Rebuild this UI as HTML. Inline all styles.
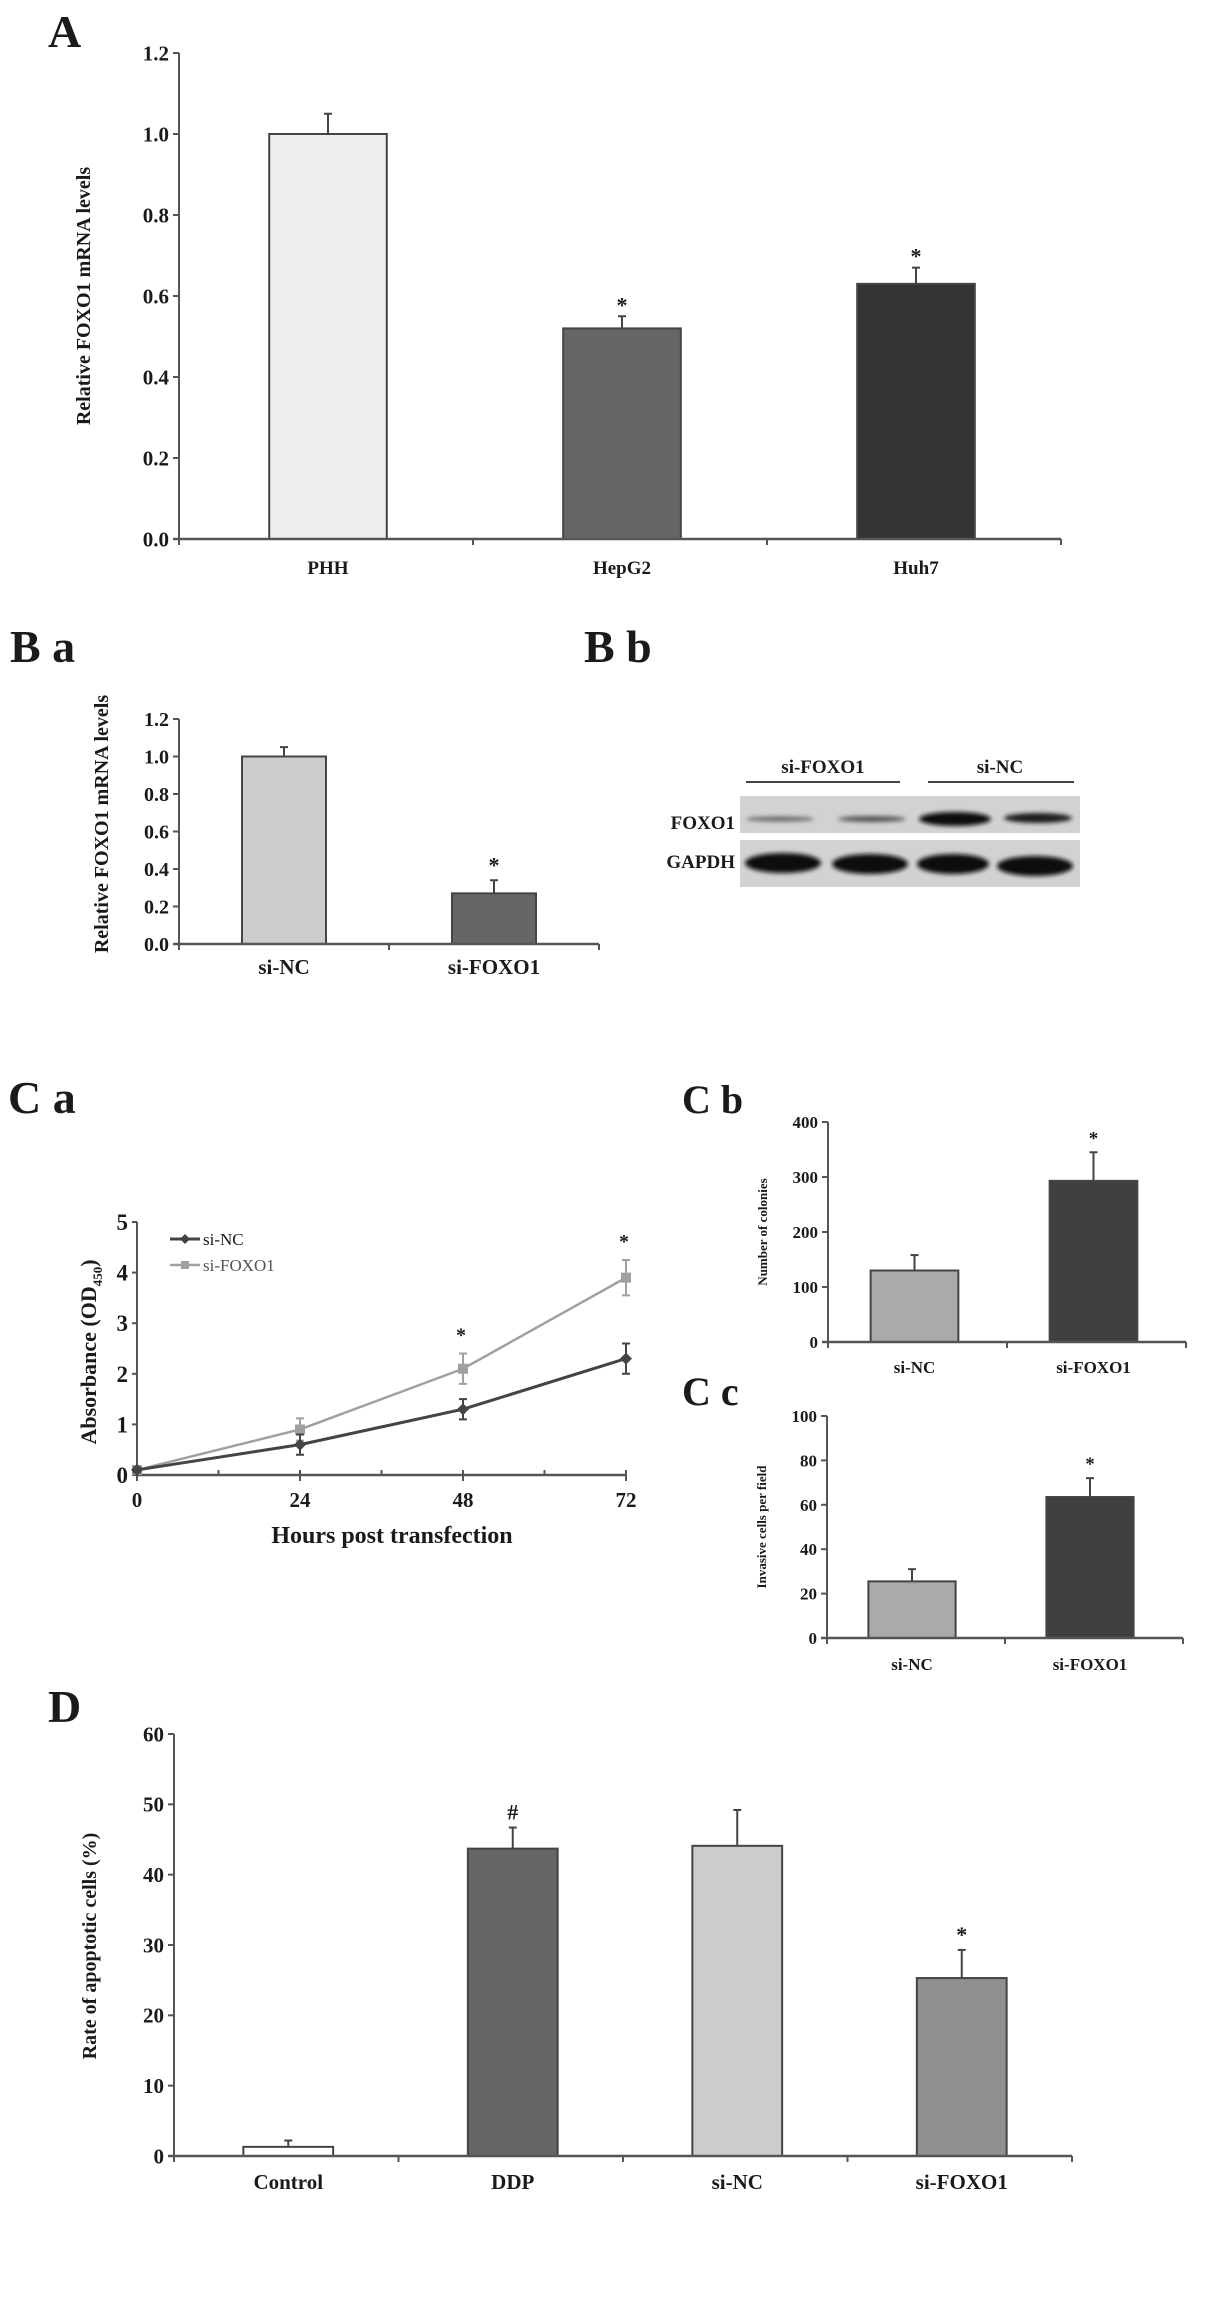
<!DOCTYPE html>
<html><head><meta charset="utf-8">
<style>
html,body{margin:0;padding:0;background:#fff;}
svg{display:block;}
text{font-family:"Liberation Serif",serif;font-weight:bold;fill:#1a1a1a;}
</style></head>
<body>
<svg id="fig" width="1205" height="2311" viewBox="0 0 1205 2311" xmlns="http://www.w3.org/2000/svg">
<defs>
<filter id="blur2" x="-20%" y="-50%" width="140%" height="200%"><feGaussianBlur stdDeviation="2.2"/></filter>
</defs>
<text x="48" y="47" font-size="46">A</text>
<text x="10" y="662" font-size="46">B a</text>
<text x="584" y="662" font-size="46">B b</text>
<text x="8" y="1113" font-size="46">C a</text>
<text x="682" y="1113" font-size="40">C b</text>
<text x="682" y="1405" font-size="40">C c</text>
<text x="48" y="1722" font-size="46">D</text>

<g id="blot">
  <text x="823" y="773" font-size="19" text-anchor="middle">si-FOXO1</text>
  <line x1="746" y1="782" x2="900" y2="782" stroke="#444" stroke-width="2"/>
  <text x="1000" y="773" font-size="19" text-anchor="middle">si-NC</text>
  <line x1="928" y1="782" x2="1074" y2="782" stroke="#444" stroke-width="2"/>
  <text x="735" y="829" font-size="19" text-anchor="end">FOXO1</text>
  <text x="735" y="868" font-size="19" text-anchor="end">GAPDH</text>
  <rect x="740" y="796" width="340" height="37" fill="#d2d2d2"/>
  <rect x="740" y="840" width="340" height="47" fill="#d2d2d2"/>
  <g filter="url(#blur2)">
    <ellipse cx="780" cy="819" rx="34" ry="2.5" fill="#666"/>
    <ellipse cx="872" cy="819" rx="34" ry="3" fill="#555"/>
    <ellipse cx="955" cy="819" rx="36" ry="7" fill="#111"/>
    <ellipse cx="1038" cy="818" rx="34" ry="5" fill="#1a1a1a"/>
    <ellipse cx="783" cy="863" rx="38" ry="10" fill="#0c0c0c"/>
    <ellipse cx="870" cy="864" rx="38" ry="10" fill="#0c0c0c"/>
    <ellipse cx="953" cy="864" rx="36" ry="10" fill="#0c0c0c"/>
    <ellipse cx="1035" cy="866" rx="38" ry="10" fill="#0c0c0c"/>
  </g>
</g>
</svg>
<script>
// ---------- Panel A data ----------
const aCategories = ["PHH", "HepG2", "Huh7"];
const aValues = [1.0, 0.52, 0.63];
const aErrors = [0.05, 0.03, 0.04];
const aMarks = ["", "*", "*"];
const aTicks = ["0.0", "0.2", "0.4", "0.6", "0.8", "1.0", "1.2"];
// ---------- Panel Ba data ----------
const baCategories = ["si-NC", "si-FOXO1"];
const baValues = [1.0, 0.27];
const baErrors = [0.05, 0.07];
const baMarks = ["", "*"];
const baTicks = ["0.0", "0.2", "0.4", "0.6", "0.8", "1.0", "1.2"];
// ---------- Panel Ca data ----------
const caHours = [0, 24, 48, 72];
const caNC = [0.1, 0.6, 1.3, 2.3];
const caNCErr = [0.05, 0.2, 0.2, 0.3];
const caFOXO1 = [0.1, 0.9, 2.1, 3.9];
const caFOXO1Err = [0.05, 0.22, 0.3, 0.35];
const caMarks = ["", "", "*", "*"];
const caYTicks = ["0", "1", "2", "3", "4", "5"];
const caXTicks = ["0", "24", "48", "72"];
// ---------- Panel Cb data ----------
const cbCategories = ["si-NC", "si-FOXO1"];
const cbValues = [130, 293];
const cbErrors = [28, 52];
const cbMarks = ["", "*"];
const cbTicks = ["0", "100", "200", "300", "400"];
// ---------- Panel Cc data ----------
const ccCategories = ["si-NC", "si-FOXO1"];
const ccValues = [25.5, 63.5];
const ccErrors = [5.5, 8.5];
const ccMarks = ["", "*"];
const ccTicks = ["0", "20", "40", "60", "80", "100"];
// ---------- Panel D data ----------
const dCategories = ["Control", "DDP", "si-NC", "si-FOXO1"];
const dValues = [1.3, 43.7, 44.1, 25.3];
const dErrors = [0.9, 3.0, 5.1, 4.0];
const dMarks = ["", "#", "", "*"];
const dTicks = ["0", "10", "20", "30", "40", "50", "60"];

const NS = "http://www.w3.org/2000/svg";
const svg = document.getElementById("fig");
function mk(tag, attrs, parent) {
  const e = document.createElementNS(NS, tag);
  for (const k in attrs) e.setAttribute(k, attrs[k]);
  (parent || svg).appendChild(e);
  return e;
}
const AX = "#555";

function barChart(c) {
  const g = mk("g", {});
  
  
  const maxV = parseFloat(c.ticks[c.ticks.length - 1]);
  const y = v => c.y0 - (v / maxV) * (c.y0 - c.yTop);
  const band = (c.xEnd - c.ax) / c.cats.length;
  // y axis
  const ya = mk("line", {x1: c.ax, y1: c.yTop, x2: c.ax, y2: c.y0, stroke: AX, "stroke-width": 2}, g);
  
  
  c.ticks.forEach(t => {
    const ty = y(parseFloat(t));
    const tk = mk("line", {x1: c.ax - 6, y1: ty, x2: c.ax, y2: ty, stroke: AX, "stroke-width": 2}, g);
    
    
    const tl = mk("text", {x: c.ax - 10, y: ty + c.tickFs * 0.35, "font-size": c.tickFs, "text-anchor": "end"}, g);
    tl.textContent = t;
    
    
  });
  // bars
  c.cats.forEach((cat, i) => {
    const cx = c.ax + band * (i + 0.5) + (c.shift || 0);
    const w = band * c.bw;
    const top = y(c.vals[i]);
    const eTop = y(c.vals[i] + c.errs[i]);
    const el = mk("line", {x1: cx, y1: top, x2: cx, y2: eTop, stroke: "#444", "stroke-width": 2}, g);
    
    
    const cap = mk("line", {x1: cx - 4, y1: eTop, x2: cx + 4, y2: eTop, stroke: "#444", "stroke-width": 2}, g);
    
    
    const r = mk("rect", {x: cx - w / 2, y: top, width: w, height: c.y0 - top, fill: c.colors[i], stroke: "#444", "stroke-width": 2}, g);
    
    
    const lb = mk("text", {x: cx, y: c.y0 + c.labelDy, "font-size": c.labelFs, "text-anchor": "middle"}, g);
    lb.textContent = cat;
    
    
    if (c.marks[i]) {
      const m = mk("text", {x: cx, y: eTop - c.markGap, "font-size": c.markFs, "text-anchor": "middle", fill: "#333"}, g);
      m.textContent = c.marks[i];
      
      
    }
  });
  // x axis
  const xa = mk("line", {x1: c.ax - 6, y1: c.y0, x2: c.xEnd, y2: c.y0, stroke: AX, "stroke-width": 2.5}, g);
  
  
  for (let i = 0; i <= c.cats.length; i++) {
    const tx = c.ax + band * i;
    const tk = mk("line", {x1: tx, y1: c.y0, x2: tx, y2: c.y0 + 6, stroke: AX, "stroke-width": 2}, g);
    
    
  }
  const yt = mk("text", {x: 0, y: 0, "font-size": c.titleFs, "text-anchor": "middle", transform: "translate(" + c.titleX + "," + c.titleY + ") rotate(-90)"}, g);
  yt.textContent = c.title;
  
  
}

barChart({name: "chart-a", cats: aCategories, vals: aValues, errs: aErrors, marks: aMarks, ticks: aTicks,
  ax: 179, xEnd: 1061, y0: 539, yTop: 53, bw: 0.4, shift: 2, colors: ["#eeeeee", "#666666", "#333333"],
  tickFs: 21, labelFs: 19, labelDy: 35, markFs: 22, markGap: 4, title: "Relative FOXO1 mRNA levels", titleX: 90, titleY: 296, titleFs: 20});
barChart({name: "chart-ba", cats: baCategories, vals: baValues, errs: baErrors, marks: baMarks, ticks: baTicks,
  ax: 179, xEnd: 599, y0: 944, yTop: 719, bw: 0.4, shift: 0, colors: ["#cccccc", "#666666"],
  tickFs: 20, labelFs: 21, labelDy: 30, markFs: 22, markGap: 8, title: "Relative FOXO1 mRNA levels", titleX: 108, titleY: 824, titleFs: 20});
barChart({name: "chart-cb", cats: cbCategories, vals: cbValues, errs: cbErrors, marks: cbMarks, ticks: cbTicks,
  ax: 828, xEnd: 1186, y0: 1342, yTop: 1122, bw: 0.49, shift: -3, colors: ["#aaaaaa", "#404040"],
  tickFs: 17, labelFs: 17, labelDy: 31, markFs: 19, markGap: 8, title: "Number of colonies", titleX: 767, titleY: 1232, titleFs: 13});
barChart({name: "chart-cc", cats: ccCategories, vals: ccValues, errs: ccErrors, marks: ccMarks, ticks: ccTicks,
  ax: 827, xEnd: 1183, y0: 1638, yTop: 1416, bw: 0.49, shift: -4, colors: ["#aaaaaa", "#404040"],
  tickFs: 17, labelFs: 17, labelDy: 32, markFs: 19, markGap: 8, title: "Invasive cells per field", titleX: 766, titleY: 1527, titleFs: 13});
barChart({name: "chart-d", cats: dCategories, vals: dValues, errs: dErrors, marks: dMarks, ticks: dTicks,
  ax: 174, xEnd: 1072, y0: 2156, yTop: 1734, bw: 0.4, shift: 2, colors: ["#ffffff", "#666666", "#cccccc", "#909090"],
  tickFs: 21, labelFs: 21, labelDy: 33, markFs: 22, markGap: 8, title: "Rate of apoptotic cells (%)", titleX: 96, titleY: 1946, titleFs: 20});

// ---------- Panel Ca line chart ----------
(function () {
  const g = mk("g", {});
  
  
  const ax = 137, xEnd = 626, y0 = 1475, yTop = 1222;
  const xMax = parseFloat(caXTicks[caXTicks.length - 1]);
  const yMax = parseFloat(caYTicks[caYTicks.length - 1]);
  const x = h => ax + (h / xMax) * (xEnd - ax);
  const y = v => y0 - (v / yMax) * (y0 - yTop);
  const ya = mk("line", {x1: ax, y1: yTop, x2: ax, y2: y0, stroke: AX, "stroke-width": 2}, g);
  
  
  caYTicks.forEach(t => {
    const ty = y(parseFloat(t));
    const tk = mk("line", {x1: ax - 5, y1: ty, x2: ax, y2: ty, stroke: AX, "stroke-width": 2}, g);
    
    
    const tl = mk("text", {x: ax - 9, y: ty + 8, "font-size": 23, "text-anchor": "end"}, g);
    tl.textContent = t;
    
    
  });
  const xa = mk("line", {x1: ax, y1: y0, x2: xEnd, y2: y0, stroke: AX, "stroke-width": 2.5}, g);
  
  
  caXTicks.forEach((t, i) => {
    const tx = x(parseFloat(t));
    const tk = mk("line", {x1: tx, y1: y0 - 5, x2: tx, y2: y0 + 6, stroke: AX, "stroke-width": 2}, g);
    
    
    if (i < caXTicks.length - 1) {
      const mx = x((parseFloat(t) + parseFloat(caXTicks[i + 1])) / 2);
      const mt = mk("line", {x1: mx, y1: y0 - 5, x2: mx, y2: y0, stroke: AX, "stroke-width": 2}, g);
      
      
    }
    const tl = mk("text", {x: tx, y: y0 + 32, "font-size": 21, "text-anchor": "middle"}, g);
    tl.textContent = t;
    
    
  });
  const xt = mk("text", {x: 392, y: 1543, "font-size": 24, "text-anchor": "middle"}, g);
  xt.textContent = "Hours post transfection";
  
  
  const yt = mk("text", {x: 0, y: 0, "font-size": 22, "text-anchor": "middle", transform: "translate(96,1352) rotate(-90)"}, g);
  yt.textContent = "Absorbance (OD";
  const sub = mk("tspan", {"font-size": 13, dy: 6}, yt);
  sub.textContent = "450";
  const cl = mk("tspan", {dy: -6}, yt);
  cl.textContent = ")";
  
  

  function series(vals, errs, color, width, shape, name) {
    const pts = caHours.map((h, i) => x(h) + "," + y(vals[i])).join(" ");
    const pl = mk("polyline", {points: pts, fill: "none", stroke: color, "stroke-width": width}, g);
    
    
    caHours.forEach((h, i) => {
      const px = x(h), py = y(vals[i]);
      const e = mk("path", {d: "M" + px + "," + y(vals[i] - errs[i]) + "V" + y(vals[i] + errs[i]) + "M" + (px - 4) + "," + y(vals[i] - errs[i]) + "h8M" + (px - 4) + "," + y(vals[i] + errs[i]) + "h8", stroke: color, "stroke-width": 2, fill: "none"}, g);
      
      
      let m;
      if (shape === "diamond") m = mk("path", {d: "M" + px + "," + (py - 6) + "l6,6l-6,6l-6,-6z", fill: color}, g);
      else m = mk("rect", {x: px - 5, y: py - 5, width: 10, height: 10, fill: color}, g);
      
      
    });
  }
  series(caFOXO1, caFOXO1Err, "#a0a0a0", 2.5, "square", "si-foxo1");
  series(caNC, caNCErr, "#444444", 3, "diamond", "si-nc");
  caHours.forEach((h, i) => {
    if (caMarks[i]) {
      const m = mk("text", {x: x(h) - 2, y: y(caFOXO1[i] + caFOXO1Err[i]) - 12, "font-size": 20, "text-anchor": "middle"}, g);
      m.textContent = caMarks[i];
      
      
    }
  });
  // legend
  const l1 = mk("line", {x1: 170, y1: 1239, x2: 200, y2: 1239, stroke: "#444", "stroke-width": 3}, g);
  
  
  const d1 = mk("path", {d: "M185,1234l5,5l-5,5l-5,-5z", fill: "#444"}, g);
  
  
  const t1 = mk("text", {x: 203, y: 1245, "font-size": 17, style: "font-weight:normal"}, g);
  t1.textContent = "si-NC";
  
  
  const l2 = mk("line", {x1: 170, y1: 1265, x2: 200, y2: 1265, stroke: "#a0a0a0", "stroke-width": 2.5}, g);
  
  
  const d2 = mk("rect", {x: 181, y: 1261, width: 8, height: 8, fill: "#a0a0a0"}, g);
  
  
  const t2 = mk("text", {x: 203, y: 1271, "font-size": 17, style: "font-weight:normal;fill:#555"}, g);
  t2.textContent = "si-FOXO1";
  
  
})();
</script>
</body></html>
